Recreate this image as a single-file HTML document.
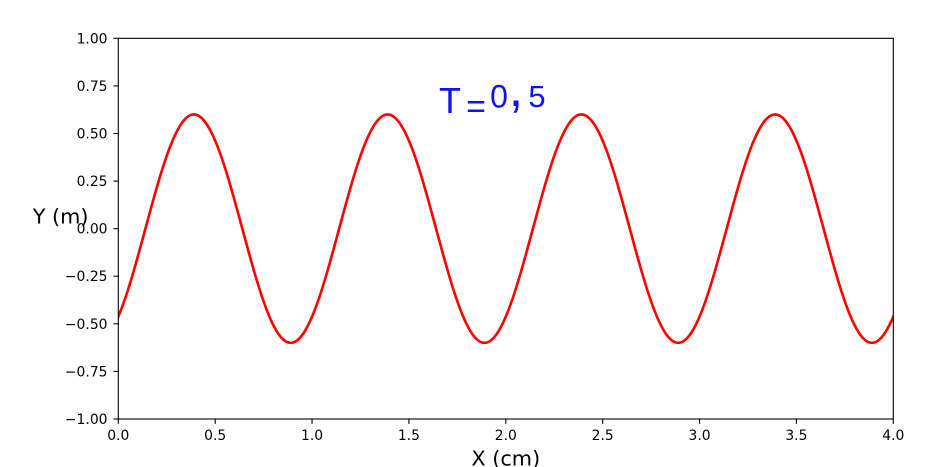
<!DOCTYPE html>
<html>
<head>
<meta charset="utf-8">
<style>
  html, body { margin: 0; padding: 0; background: #ffffff; }
  body { width: 945px; height: 467px; overflow: hidden; }
  svg { display: block; }
  text { font-family: "DejaVu Sans", "Liberation Sans", sans-serif; }
  .hw { font-family: "Liberation Sans", sans-serif; }
</style>
</head>
<body>
<svg width="945" height="467" viewBox="0 0 945 467" xmlns="http://www.w3.org/2000/svg">
  <rect x="0" y="0" width="945" height="467" fill="#ffffff"/>
  <defs>
    <clipPath id="ax">
      <rect x="118.3" y="38.3" width="775" height="380.7"/>
    </clipPath>
  </defs>

  <!-- curve -->
  <path clip-path="url(#ax)" fill="none" stroke="#ff0000" stroke-width="2.6" stroke-linejoin="round" stroke-linecap="butt"
    d="M96.99,342.86
       c17.53,0 32.64,-55.70 48.4375,-114.21
       c15.797,-58.51 30.907,-114.21 48.4375,-114.21
       c17.53,0 32.64,55.70 48.4375,114.21
       c15.797,58.51 30.907,114.21 48.4375,114.21
       c17.53,0 32.64,-55.70 48.4375,-114.21
       c15.797,-58.51 30.907,-114.21 48.4375,-114.21
       c17.53,0 32.64,55.70 48.4375,114.21
       c15.797,58.51 30.907,114.21 48.4375,114.21
       c17.53,0 32.64,-55.70 48.4375,-114.21
       c15.797,-58.51 30.907,-114.21 48.4375,-114.21
       c17.53,0 32.64,55.70 48.4375,114.21
       c15.797,58.51 30.907,114.21 48.4375,114.21
       c17.53,0 32.64,-55.70 48.4375,-114.21
       c15.797,-58.51 30.907,-114.21 48.4375,-114.21
       c17.53,0 32.64,55.70 48.4375,114.21
       c15.797,58.51 30.907,114.21 48.4375,114.21
       c17.53,0 32.64,-55.70 48.4375,-114.21"/>

  <!-- spines -->
  <rect x="118.3" y="38.3" width="775" height="380.7" fill="none" stroke="#000" stroke-width="1.1"/>

  <!-- y ticks -->
  <g stroke="#000" stroke-width="1.1">
    <line x1="113.4" y1="38.3" x2="118.3" y2="38.3"/>
    <line x1="113.4" y1="85.9" x2="118.3" y2="85.9"/>
    <line x1="113.4" y1="133.5" x2="118.3" y2="133.5"/>
    <line x1="113.4" y1="181.1" x2="118.3" y2="181.1"/>
    <line x1="113.4" y1="228.65" x2="118.3" y2="228.65"/>
    <line x1="113.4" y1="276.2" x2="118.3" y2="276.2"/>
    <line x1="113.4" y1="323.8" x2="118.3" y2="323.8"/>
    <line x1="113.4" y1="371.4" x2="118.3" y2="371.4"/>
    <line x1="113.4" y1="419" x2="118.3" y2="419"/>
  </g>
  <g font-size="13.9" fill="#000" text-anchor="end">
    <text x="107.5" y="43.3">1.00</text>
    <text x="107.5" y="90.9">0.75</text>
    <text x="107.5" y="138.5">0.50</text>
    <text x="107.5" y="186.1">0.25</text>
    <text x="107.5" y="233.65">0.00</text>
    <text x="107.5" y="281.2">−0.25</text>
    <text x="107.5" y="328.8">−0.50</text>
    <text x="107.5" y="376.4">−0.75</text>
    <text x="107.5" y="424">−1.00</text>
  </g>

  <!-- x ticks -->
  <g stroke="#000" stroke-width="1.1">
    <line x1="118.3" y1="419" x2="118.3" y2="423.9"/>
    <line x1="215.2" y1="419" x2="215.2" y2="423.9"/>
    <line x1="312.05" y1="419" x2="312.05" y2="423.9"/>
    <line x1="408.9" y1="419" x2="408.9" y2="423.9"/>
    <line x1="505.8" y1="419" x2="505.8" y2="423.9"/>
    <line x1="602.7" y1="419" x2="602.7" y2="423.9"/>
    <line x1="699.55" y1="419" x2="699.55" y2="423.9"/>
    <line x1="796.4" y1="419" x2="796.4" y2="423.9"/>
    <line x1="893.3" y1="419" x2="893.3" y2="423.9"/>
  </g>
  <g font-size="13.9" fill="#000" text-anchor="middle">
    <text x="118.3" y="440">0.0</text>
    <text x="215.2" y="440">0.5</text>
    <text x="312.05" y="440">1.0</text>
    <text x="408.9" y="440">1.5</text>
    <text x="505.8" y="440">2.0</text>
    <text x="602.7" y="440">2.5</text>
    <text x="699.55" y="440">3.0</text>
    <text x="796.4" y="440">3.5</text>
    <text x="893.3" y="440">4.0</text>
  </g>

  <!-- axis labels -->
  <text x="505.8" y="465.5" font-size="20.8" text-anchor="middle" fill="#000">X (cm)</text>
  <text x="88.5" y="223.5" font-size="20.8" text-anchor="end" fill="#000">Y (m)</text>

  <!-- handwritten annotation -->
  <g fill="#1010ff">
    <text class="hw" x="450" y="113" font-size="36" text-anchor="middle">T</text>
    <text class="hw" x="476" y="118" font-size="34" text-anchor="middle">=</text>
    <text class="hw" x="499" y="107.5" font-size="32" text-anchor="middle">0</text>
    <text class="hw" x="516" y="106" font-size="52" text-anchor="middle">,</text>
    <text class="hw" x="537" y="107" font-size="31" text-anchor="middle">5</text>
  </g>
</svg>
</body>
</html>
